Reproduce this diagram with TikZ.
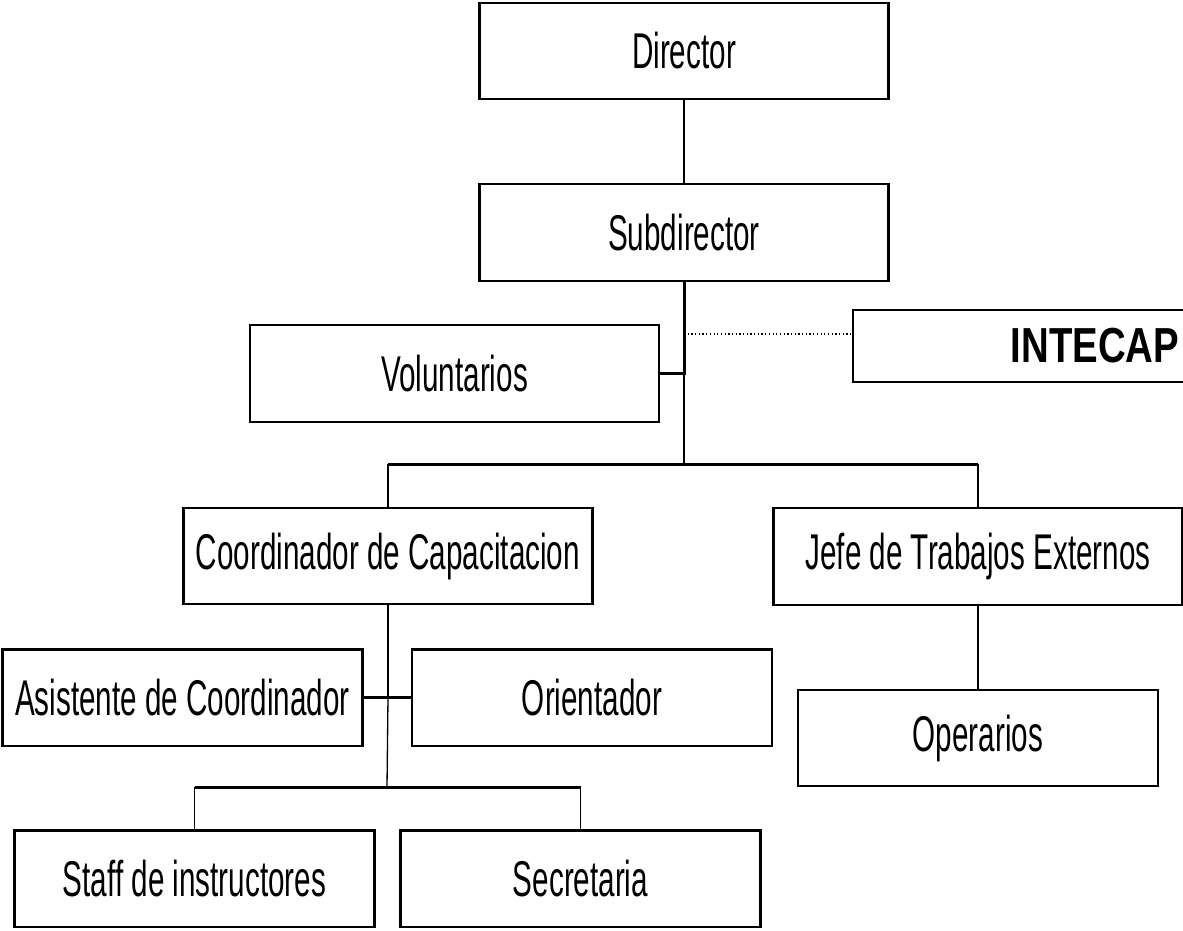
\documentclass[tikz,border=0pt]{standalone}
\usepackage{fontspec}
\newfontfamily\orgfont[FakeStretch=0.59]{Liberation Sans}
\newfontfamily\instfont[FakeStretch=0.78]{Liberation Sans}
\usetikzlibrary{calc}

\begin{document}
\begin{tikzpicture}[x=0.02cm,y=-0.02cm,
  every node/.style={font=\orgfont\fontsize{28.6}{32}\selectfont},
  caja/.style={draw,line width=1.4pt,minimum height=1.93cm,inner sep=0pt},
  ancha/.style={caja,minimum width=8.18cm},
  corta/.style={caja,minimum width=7.2cm},
  vert/.style={line width=0.75pt},
  horiz/.style={line width=1.7pt}]

\useasboundingbox (0,0) rectangle (1183,930);
\clip (0,0) rectangle (1183,930);

\node[ancha] (dir) at (684,51) {Director};
\node[ancha] (sub) at (684,232.5) {Subdirector};
\node[ancha] (vol) at (454.5,373.5) {Voluntarios};
\node[caja,minimum width=9.68cm,minimum height=1.44cm,line width=1.1pt,
  font=\instfont\fontsize{28}{32}\selectfont\bfseries] (int) at (1095,346) {INTECAP};
\node[ancha] (coo) at (388,556) {Coordinador de Capacitacion};
\node[ancha] (jef) at (978,556.5) {Jefe de Trabajos Externos};
\node[corta] (asi) at (182.5,697.5) {Asistente de Coordinador};
\node[corta] (ori) at (592,697.5) {Orientador};
\node[corta] (ope) at (978,738) {Operarios};
\node[corta] (sta) at (194.5,878.5) {Staff de instructores};
\node[corta] (sec) at (580.5,878.5) {Secretaria};

\coordinate (punt) at (684,334);
\coordinate (bus) at (684,464);
\coordinate (bus2) at (387,787);

\draw[vert] (dir) -- (sub);
\draw[horiz] (sub.south) -- (sub.south |- vol.east) -- (vol.east);
\draw[vert] (sub.south |- vol.east) -- (bus);
\draw[vert,dash pattern=on 0.7pt off 1.4pt] (punt) -- (punt -| int.west);
\draw[horiz] (bus -| coo.north) -- (bus -| jef.north);
\draw[vert] (bus -| coo.north) -- (coo.north);
\draw[vert] (bus -| jef.north) -- (jef.north);
\draw[horiz] (coo.south) -- (coo.south |- asi.east);
\draw[vert] (coo.south |- asi.east) -- (bus2);
\draw[horiz] (asi.east) -- (ori.west);
\draw[horiz] (bus2 -| sta.north) -- (bus2 -| sec.north);
\draw[vert] (bus2 -| sta.north) -- (sta.north);
\draw[vert] (bus2 -| sec.north) -- (sec.north);
\draw[vert] (jef.south) -- (ope.north);

\end{tikzpicture}
\end{document}
